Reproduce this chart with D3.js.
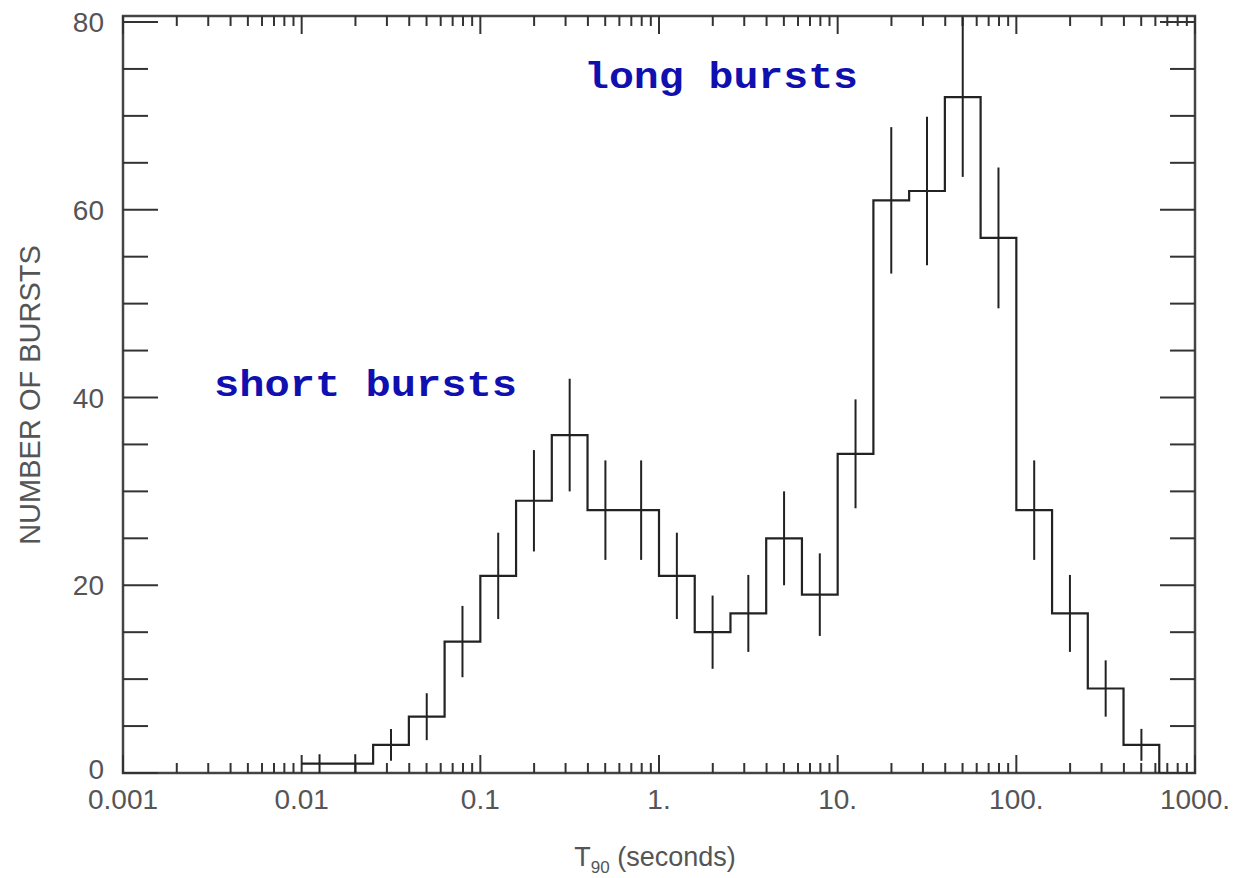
<!DOCTYPE html>
<html><head><meta charset="utf-8">
<script src="https://d3js.org/d3.v7.min.js"></script>
<style>body{margin:0;background:#fff}</style>
</head><body>
<svg id="c" width="1245" height="878"></svg>
<script>
// log10 bin edges (left), counts and error half-lengths
const binStarts = [-2.0,-1.8,-1.6,-1.4,-1.2,-1.0,-0.8,-0.6,-0.4,-0.2,0.0,0.2,0.4,0.6,0.8,1.0,1.2,1.4,1.6,1.8,2.0,2.2,2.4,2.6];
const counts    = [1,1,3,6,14,21,29,36,28,28,21,15,17,25,19,34,61,62,72,57,28,17,9,3];
const errs      = [1,1,1.7,2.5,3.8,4.6,5.4,6,5.3,5.3,4.6,3.9,4.1,5,4.4,5.8,7.8,7.9,8.5,7.5,5.3,4.1,3,1.7];
const xTickLabels = ["0.001","0.01","0.1","1.","10.","100.","1000."];
const yTicks = [0,20,40,60,80];

const svg = d3.select("#c");
const L=123,R=1195,T=16,B=773;
const x = d3.scaleLog().domain([0.001,1000]).range([L,R]);
const y = d3.scaleLinear().domain([0,80]).range([B,22]);
const binW = 0.2;

// frame
svg.append("rect").attr("x",L).attr("y",T).attr("width",R-L).attr("height",B-T)
  .attr("fill","none").attr("stroke","#444").attr("stroke-width",2.5);

const g = svg.append("g").attr("stroke","#333").attr("stroke-width",2);
// x ticks (bottom and top)
for(let d=-3; d<=3; d++){
  for(let m=1;m<=9;m++){
    if(d===3 && m>1) break;
    const v = m*Math.pow(10,d), len = m===1?18:10;
    g.append("line").attr("x1",x(v)).attr("x2",x(v)).attr("y1",B).attr("y2",B-len);
    g.append("line").attr("x1",x(v)).attr("x2",x(v)).attr("y1",T).attr("y2",T+len);
  }
}
// y ticks
d3.range(0,81,5).forEach(v=>{
  const len = v%20===0?35:25;
  g.append("line").attr("x1",L).attr("x2",L+len).attr("y1",y(v)).attr("y2",y(v));
  g.append("line").attr("x1",R).attr("x2",R-len).attr("y1",y(v)).attr("y2",y(v));
});

// labels
const lab = svg.append("g").attr("fill","#555").attr("font-family","'Liberation Sans',Arial,sans-serif").attr("font-size",28);
xTickLabels.forEach((t,i)=>{
  lab.append("text").attr("x",x(Math.pow(10,i-3))).attr("y",809).attr("text-anchor","middle").text(t);
});
yTicks.forEach(v=>{
  lab.append("text").attr("x",104).attr("y",y(v)+(v===0?6:10)).attr("text-anchor","end").text(v);
});
const xl = lab.append("text").attr("x",655).attr("y",866).attr("text-anchor","middle").attr("font-size",27);
xl.append("tspan").text("T");
xl.append("tspan").attr("font-size",17).attr("dy",7).text("90");
xl.append("tspan").attr("dy",-7).text(" (seconds)");
lab.append("text").attr("transform","translate(40,395) rotate(-90)").attr("text-anchor","middle")
  .attr("font-size",29).text("NUMBER OF BURSTS");

// histogram step line
const pts = [];
binStarts.forEach((s,i)=>{
  pts.push([x(Math.pow(10,s)), y(counts[i])]);
  pts.push([x(Math.pow(10,s+binW)), y(counts[i])]);
});
pts.push([pts[pts.length-1][0], y(0)]);
svg.append("path").attr("d",d3.line()(pts)).attr("fill","none").attr("stroke","#222").attr("stroke-width",2.2);

// error bars
svg.append("g").selectAll("line").data(binStarts).join("line")
  .attr("x1",(s)=>x(Math.pow(10,s+binW/2))).attr("x2",(s)=>x(Math.pow(10,s+binW/2)))
  .attr("y1",(s,i)=>y(counts[i]+errs[i])).attr("y2",(s,i)=>y(Math.max(0,counts[i]-errs[i])))
  .attr("stroke","#222").attr("stroke-width",2);

// annotations
const ann = svg.append("g").attr("fill","#1010b0").attr("font-family","'Liberation Mono','Courier New',monospace")
  .attr("font-weight","bold").attr("font-size",36);
ann.append("text").attr("x",584).attr("y",88).attr("textLength",274).attr("lengthAdjust","spacingAndGlyphs").text("long bursts");
ann.append("text").attr("x",214).attr("y",396).attr("textLength",303).attr("lengthAdjust","spacingAndGlyphs").text("short bursts");
</script>
</body></html>
